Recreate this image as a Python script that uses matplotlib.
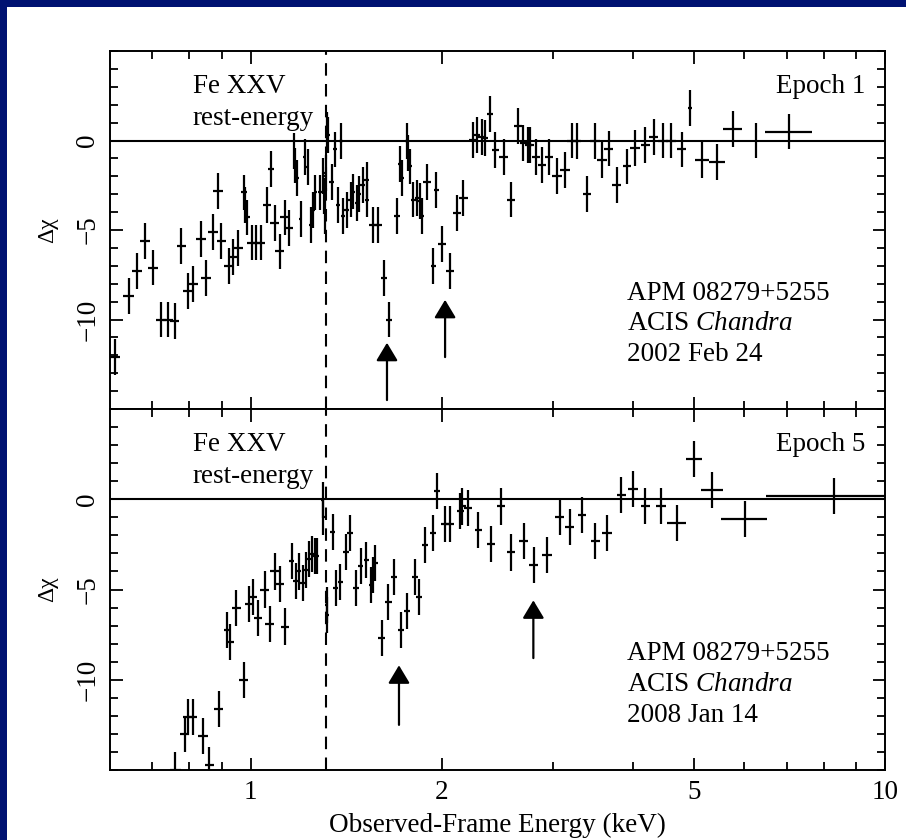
import matplotlib
matplotlib.use('Agg')
import matplotlib.pyplot as plt
from matplotlib.patches import Rectangle
from matplotlib.ticker import FixedLocator, NullFormatter, FixedFormatter

plt.rcParams['font.family'] = ['Liberation Serif', 'DejaVu Serif']
plt.rcParams['mathtext.fontset'] = 'custom'
plt.rcParams['mathtext.rm'] = 'Liberation Serif'
plt.rcParams['mathtext.it'] = 'Liberation Serif:italic'

# Epoch 1 (2002 Feb 24) residuals
e1 = [0.610, 0.642, 0.661, 0.682, 0.701, 0.721, 0.740, 0.759, 0.777, 0.796,
      0.811, 0.834, 0.851, 0.872, 0.888, 0.899, 0.923, 0.938, 0.955, 0.976,
      0.981, 0.988, 1.003, 1.021, 1.037, 1.061, 1.078, 1.091, 1.111, 1.132,
      1.149, 1.171, 1.176, 1.185, 1.199, 1.217, 1.229, 1.243, 1.254, 1.265,
      1.285, 1.301, 1.306, 1.309, 1.312, 1.317, 1.325, 1.341, 1.357, 1.374,
      1.386, 1.396, 1.416, 1.437, 1.451, 1.469, 1.483, 1.501, 1.523, 1.526,
      1.557, 1.589, 1.622, 1.654, 1.699, 1.720, 1.730, 1.766, 1.772, 1.783,
      1.805, 1.827, 1.849, 1.859, 1.895, 1.941, 1.960, 2.001, 2.063, 2.113,
      2.165, 2.240, 2.273, 2.314, 2.342, 2.385, 2.430, 2.504, 2.572, 2.640,
      2.690, 2.740, 2.760, 2.820, 2.880, 2.950, 3.040, 3.130, 3.210, 3.270,
      3.390, 3.490, 3.580, 3.670, 3.780, 3.920, 4.040, 4.190, 4.320, 4.470,
      4.600, 4.780, 4.930, 5.150, 5.440, 5.760, 6.260, 7.060]
r1 = [-12.1, -8.7, -7.3, -5.6, -7.1, -10.0, -10.0, -10.1, -5.9, -8.4,
      -8.0, -5.5, -7.7, -5.1, -2.8, -5.6, -7.0, -6.5, -6.0, -2.9,
      -3.6, -4.3, -5.7, -5.7, -5.7, -3.6, -1.6, -4.6, -6.2, -4.3,
      -4.9, -0.6, -1.4, -2.1, -4.4, -0.9, -1.5, -4.7, -3.9, -2.9,
      -2.9, -2.0, -3.1, -4.2, -1.8, 0.6, 0.3, -2.3, -0.5, -3.6,
      -0.05, -4.2, -3.9, -3.3, -2.85, -3.5, -3.0, -2.5, -2.2, -3.3,
      -4.7, -4.7, -7.7, -10.0, -4.2, -1.3, -2.1, -0.05, -0.7, -1.45,
      -3.3, -3.2, -3.4, -4.2, -2.3, -7.0, -2.75, -5.8, -7.3, -4.05,
      -3.2, 0.05, 0.3, 0.2, 0.13, 1.5, -0.55, -0.9, -3.3, 0.8,
      -0.15, -0.25, -0.25, -0.9, -1.35, -0.9, -2.0, -1.65, 0.0, -0.05,
      -3.0, -0.05, -1.1, -0.45, -2.5, -1.45, -0.4, -0.25, 0.2, 0.0,
      0.0, -0.5, 1.8, -1.1, -1.2, 0.65, 0.0, 0.5]
de1 = [0.013, 0.012, 0.012, 0.012, 0.012, 0.013, 0.013, 0.013, 0.013, 0.014,
       0.014, 0.015, 0.015, 0.015, 0.015, 0.015, 0.016, 0.016, 0.016, 0.012,
       0.008, 0.008, 0.017, 0.017, 0.017, 0.017, 0.012, 0.017, 0.018, 0.018,
       0.018, 0.007, 0.007, 0.007, 0.007, 0.007, 0.007, 0.009, 0.009, 0.009,
       0.009, 0.007, 0.006, 0.006, 0.006, 0.006, 0.007, 0.010, 0.010, 0.010,
       0.010, 0.010, 0.012, 0.012, 0.010, 0.010, 0.010, 0.012, 0.012, 0.012,
       0.022, 0.022, 0.018, 0.018, 0.018, 0.012, 0.012, 0.012, 0.010, 0.012,
       0.014, 0.014, 0.014, 0.014, 0.028, 0.018, 0.018, 0.028, 0.028, 0.032,
       0.032, 0.028, 0.028, 0.028, 0.028, 0.028, 0.032, 0.038, 0.038, 0.038,
       0.032, 0.032, 0.032, 0.042, 0.042, 0.042, 0.052, 0.052, 0.052, 0.052,
       0.052, 0.062, 0.062, 0.062, 0.062, 0.062, 0.072, 0.072, 0.072, 0.082,
       0.082, 0.082, 0.030, 0.125, 0.160, 0.200, 0.030, 0.600]

# Epoch 5 (2008 Jan 14) residuals
e2 = [0.761, 0.787, 0.796, 0.811, 0.841, 0.861, 0.890, 0.918, 0.929, 0.949,
      0.975, 0.994, 1.009, 1.027, 1.052, 1.071, 1.091, 1.111, 1.132, 1.160,
      1.178, 1.192, 1.207, 1.224, 1.236, 1.247, 1.262, 1.273, 1.298, 1.302,
      1.317, 1.320, 1.346, 1.362, 1.385, 1.413, 1.434, 1.465, 1.491, 1.520,
      1.546, 1.557, 1.570, 1.609, 1.648, 1.683, 1.726, 1.766, 1.815, 1.845,
      1.883, 1.936, 1.969, 2.025, 2.063, 2.139, 2.157, 2.204, 2.286, 2.392,
      2.483, 2.575, 2.693, 2.793, 2.932, 3.069, 3.183, 3.330, 3.494, 3.647,
      3.837, 4.009, 4.190, 4.430, 4.700, 5.000, 5.340, 6.020, 8.320]
r2 = [-15.0, -13.0, -12.05, -12.05, -13.1, -14.7, -11.6, -7.25, -7.9, -6.0,
      -10.0, -5.8, -5.4, -6.6, -5.0, -6.9, -4.0, -4.7, -7.05, -3.4,
      -4.55, -4.0, -4.65, -3.9, -3.3, -3.05, -3.15, -3.15, -0.05, -1.0,
      -5.85, -6.4, -1.8, -4.9, -4.6, -2.9, -1.85, -4.9, -3.7, -3.35,
      -4.75, -4.2, -3.55, -7.7, -5.7, -4.3, -7.25, -6.2, -4.3, -5.4,
      -2.55, -1.85, 0.45, -1.35, -1.35, -0.65, -0.4, -0.5, -1.7, -2.5,
      -0.4, -2.95, -2.3, -3.65, -3.1, -1.0, -1.55, -0.85, -2.3, -1.85,
      0.25, 0.55, -0.35, -0.35, -1.3, 2.25, 0.5, -1.1, 0.2]
de2 = [0.015, 0.013, 0.013, 0.013, 0.014, 0.014, 0.015, 0.012, 0.012, 0.015,
       0.015, 0.015, 0.015, 0.015, 0.017, 0.017, 0.017, 0.017, 0.017, 0.012,
       0.012, 0.009, 0.009, 0.009, 0.009, 0.009, 0.009, 0.009, 0.006, 0.006,
       0.007, 0.007, 0.012, 0.012, 0.012, 0.014, 0.014, 0.014, 0.014, 0.014,
       0.012, 0.012, 0.016, 0.020, 0.020, 0.020, 0.020, 0.020, 0.020, 0.020,
       0.022, 0.022, 0.022, 0.028, 0.028, 0.028, 0.028, 0.032, 0.032, 0.038,
       0.038, 0.038, 0.042, 0.042, 0.048, 0.048, 0.052, 0.052, 0.058, 0.062,
       0.062, 0.072, 0.072, 0.082, 0.160, 0.140, 0.210, 0.500, 1.830]

fe_line = 1.315
# arrows: energy, tail, tip
arr1_e = [1.64, 2.025]
arr1_tail = [-14.5, -12.1]
arr1_tip = [-11.3, -8.9]
arr2_e = [1.713, 2.79]
arr2_tail = [-12.5, -8.8]
arr2_tip = [-9.2, -5.6]

panels = [
    dict(e=e1, r=r1, de=de1, ae=arr1_e, at=arr1_tail, ah=arr1_tip,
         epoch='Epoch 1', date='2002 Feb 24'),
    dict(e=e2, r=r2, de=de2, ae=arr2_e, at=arr2_tail, ah=arr2_tip,
         epoch='Epoch 5', date='2008 Jan 14'),
]

navy = '#001272'
fig = plt.figure(figsize=(9.06, 8.4), dpi=100, facecolor=navy)
fig.patches.append(Rectangle((7 / 906, 0), 1, 1 - 7 / 840, transform=fig.transFigure,
                             facecolor='white', edgecolor='none', zorder=-10))

ax_top = fig.add_axes([110 / 906, 1 - 409 / 840, 775 / 906, 358 / 840])
ax_bot = fig.add_axes([110 / 906, 1 - 770 / 840, 775 / 906, 361 / 840], sharex=ax_top)
fs = 19.5

for ax, p in zip([ax_top, ax_bot], panels):
    ax.set_xscale('log')
    ax.set_xlim(0.6, 10)
    ax.set_ylim(-15, 5)
    ax.errorbar(p['e'], p['r'], xerr=p['de'], yerr=1.0, fmt='none',
                ecolor='black', elinewidth=1.6, capsize=0)
    ax.axhline(0, color='black', lw=1.5)
    ax.axvline(fe_line, color='black', lw=1.5, linestyle=(0, (6, 4)))
    for x, t, h in zip(p['ae'], p['at'], p['ah']):
        ax.annotate('', xy=(x, h), xytext=(x, t),
                    arrowprops=dict(arrowstyle='-|>,head_length=0.5,head_width=0.3',
                                    color='black', lw=1.6, shrinkA=0, shrinkB=0,
                                    mutation_scale=22))

    ax.xaxis.set_major_locator(FixedLocator([1, 2, 5, 10]))
    ax.xaxis.set_minor_locator(FixedLocator([0.7, 0.8, 0.9, 3, 4, 6, 7, 8, 9]))
    ax.xaxis.set_major_formatter(FixedFormatter(['1', '2', '5', '10']))
    ax.xaxis.set_minor_formatter(NullFormatter())
    ax.yaxis.set_major_locator(FixedLocator([0, -5, -10]))
    ax.yaxis.set_minor_locator(FixedLocator(range(-15, 6)))
    ax.tick_params(which='both', direction='in', top=True, right=True, width=1.3)
    ax.tick_params(which='major', length=9, labelsize=fs, pad=7)
    ax.tick_params(which='minor', length=5.5)
    for lab in ax.get_yticklabels():
        lab.set_rotation(90)
        lab.set_va('center')
    for s in ax.spines.values():
        s.set_linewidth(1.4)
    ax.set_ylabel('Δχ', fontsize=17, labelpad=12)

    ax.text(0.107, 0.902, 'Fe XXV', transform=ax.transAxes, fontsize=fs, va='center')
    ax.text(0.107, 0.812, 'rest-energy', transform=ax.transAxes, fontsize=fs, va='center')
    ax.text(0.975, 0.902, p['epoch'], transform=ax.transAxes, fontsize=fs,
            va='center', ha='right')
    ax.text(0.667, 0.322, 'APM 08279+5255', transform=ax.transAxes, fontsize=fs, va='center')
    ax.text(0.667, 0.238, r'ACIS $\mathit{Chandra}$', transform=ax.transAxes,
            fontsize=fs, va='center')
    ax.text(0.667, 0.152, p['date'], transform=ax.transAxes, fontsize=fs, va='center')

ax_top.tick_params(labelbottom=False)
ax_bot.set_xlabel('Observed-Frame Energy (keV)', fontsize=fs, labelpad=6)

fig.savefig('out.png', dpi=100, facecolor=navy)
